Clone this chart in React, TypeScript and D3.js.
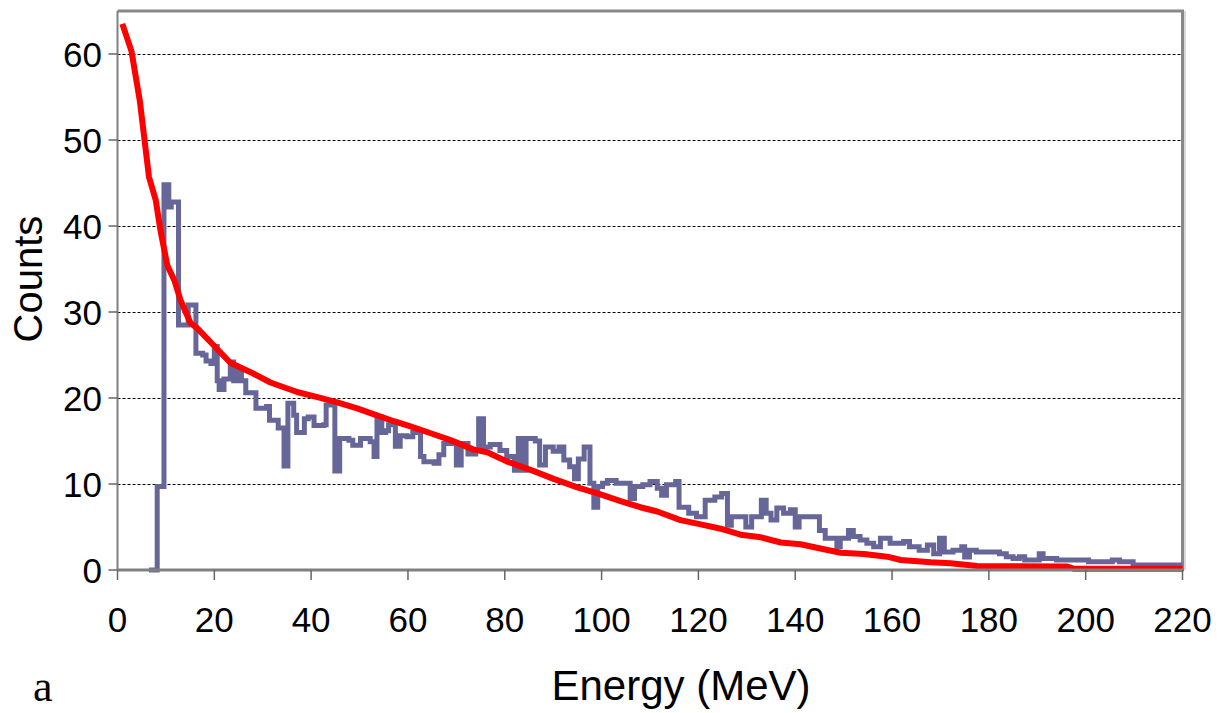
import React from "react";
import * as d3 from "d3";

// measured spectrum (step histogram), bin start energy -> counts
const measEnergy = [
  6.5, 8.2, 9.6, 10.6, 11.1, 12.6, 14.6, 16.2, 17.6, 18.3, 19.3, 20.0, 20.6, 21.0, 22.0, 23.3, 24.0, 24.7, 25.6,
  26.5, 28.6, 30.8, 31.4, 33.2, 34.4, 35.2, 36.4, 37.0, 38.6, 39.4, 40.6, 42.6, 43.1, 44.9, 45.9, 47.8, 48.6,
  50.2, 52.2, 53.0, 53.6, 54.6, 55.4, 56.0, 57.4, 58.4, 59.8, 61.0, 62.6, 63.3, 65.4, 66.4, 67.4, 69.0, 70.0,
  71.0, 72.4, 74.0, 74.6, 75.6, 77.0, 79.0, 80.4, 82.0, 82.8, 83.5, 84.4, 86.3, 87.2, 88.4, 90.0, 91.2, 92.2,
  93.4, 94.4, 95.2, 96.4, 97.6, 98.4, 99.2, 100.2, 101.2, 103.0, 104.8, 105.9, 106.8, 108.5, 110.0, 111.5,
  112.4, 113.4, 115.3, 116.0, 118.0, 119.6, 121.4, 123.4, 124.8, 126.0, 126.8, 129.8, 131.0, 133.0, 134.0,
  135.0, 136.2, 137.6, 139.0, 140.0, 140.8, 145.0, 146.2, 148.6, 149.3, 151.0, 152.0, 153.4, 154.8, 156.2,
  157.6, 159.6, 162.4, 163.6, 165.6, 167.3, 168.6, 169.8, 170.8, 172.6, 174.4, 175.0, 176.0, 177.4, 182.2,
  183.6, 185.0, 186.3, 187.4, 190.4, 191.2, 194.0, 200.6, 205.5, 207.0, 209.8, 220.0,
];
const measCounts = [
  0, 9.7, 44.8, 42.2, 42.8, 28.5, 30.8, 25.2, 25.0, 24.3, 24.0, 26.0, 22.0, 21.0, 22.2, 24.2, 22.0, 23.4, 22.0,
  20.6, 18.8, 19.0, 17.4, 16.5, 12.1, 19.4, 18.0, 16.0, 17.6, 17.8, 16.8, 16.9, 19.2, 11.5, 15.3, 15.1, 14.5,
  15.3, 14.9, 13.2, 17.8, 16.0, 16.2, 16.9, 14.4, 15.6, 15.5, 16.0, 13.2, 12.6, 12.4, 13.4, 14.7, 14.7, 12.2,
  14.7, 13.5, 13.9, 17.6, 14.3, 14.6, 13.9, 13.2, 11.6, 15.3, 11.6, 15.3, 15.0, 12.2, 14.3, 13.8, 14.3, 12.8,
  12.0, 10.6, 12.9, 14.3, 10.1, 7.3, 9.7, 10.1, 10.4, 10.1, 10.1, 8.3, 9.7, 9.9, 10.3, 9.5,
  8.7, 9.9, 10.3, 7.3, 6.6, 6.2, 8.1, 8.5, 8.9, 5.2, 6.2, 5.0, 6.2, 8.1, 6.6,
  5.8, 7.2, 6.6, 7.0, 5.0, 6.2, 4.6, 3.7, 2.7, 3.7, 4.6, 3.9, 3.5, 3.1, 2.7,
  3.7, 3.1, 3.3, 2.7, 2.3, 2.9, 1.9, 3.7, 2.1, 2.3, 2.7, 1.5, 2.3, 2.1, 1.9,
  1.55, 1.35, 1.55, 1.16, 1.9, 1.35, 1.16, 0.97, 1.16, 0.97, 0.58, 0.58,
];

// fitted curve
const fitEnergy = [
  1, 2.9, 4.6, 6.5, 7.9, 8.9, 10.3, 11.8, 13, 15.1, 16.5, 19.9, 23.3, 27.5, 31.6, 37.1, 41.3, 45.4, 49.5, 53,
  57.1, 60.5, 64.7, 68.8, 73.6, 76.4, 80.5, 86, 90.1, 95, 99.8, 103.9, 108, 111.5, 116.3, 120.5, 124.6, 128.7,
  132.9, 137, 141.1, 145.2, 149.4, 154.2, 159, 161.8, 168, 172.1, 177.6, 196.2, 197.5, 220,
];
const fitCounts = [
  63.5, 60.3, 54.6, 45.7, 43.0, 39.4, 35.4, 33.6, 31.4, 28.7, 28.1, 26.1, 24.1, 23.0, 21.8, 20.7, 20.1, 19.5,
  18.8, 18.1, 17.3, 16.7, 15.9, 15.1, 14.0, 13.7, 12.6, 11.5, 10.6, 9.6, 8.8, 8.0, 7.3, 6.8, 5.8, 5.3, 4.8, 4.1,
  3.8, 3.2, 3.0, 2.5, 2.0, 1.86, 1.55, 1.16, 0.9, 0.78, 0.46, 0.4, 0.15, 0.15,
];

const xTicks = [0, 20, 40, 60, 80, 100, 120, 140, 160, 180, 200, 220];
const yTicks = [0, 10, 20, 30, 40, 50, 60];

const W = 1223;
const H = 713;
const left = 117.5;
const right = 1182.5;
const top = 11;
const bottom = 570;
const font = "'Liberation Sans', Arial, sans-serif";

export default function App() {
  const x = d3.scaleLinear().domain([0, 220]).range([left, right]);
  const y = d3.scaleLinear().domain([0, 65]).range([bottom, top]);

  const meas = measEnergy.map((e, i) => [e, measCounts[i]] as [number, number]);
  const fit = fitEnergy.map((e, i) => [e, fitCounts[i]] as [number, number]);

  const stepLine = d3.line<[number, number]>()
    .x(d => x(d[0]))
    .y(d => y(d[1]))
    .curve(d3.curveStepAfter);
  const fitLine = d3.line<[number, number]>()
    .x(d => x(d[0]))
    .y(d => y(d[1]));

  return (
    <svg width={W} height={H} style={{ position: "absolute", left: 0, top: 0, background: "#fff" }}>
      {/* grid */}
      {yTicks.filter(t => t > 0).map(t => (
        <line key={"g" + t} x1={left} x2={right} y1={Math.round(y(t)) + 0.5} y2={Math.round(y(t)) + 0.5}
          stroke="#000" strokeWidth={1} strokeDasharray="3,2" />
      ))}
      {/* frame top/right */}
      <line x1={left} x2={right + 1.5} y1={top} y2={top} stroke="#888" strokeWidth={3} />
      <line x1={right} x2={right} y1={top} y2={bottom} stroke="#888" strokeWidth={3} />
      <line x1={right + 2.5} x2={right + 2.5} y1={top} y2={bottom} stroke="#ccc" strokeWidth={1.5} />

      {/* data */}
      <path d={stepLine(meas) || ""} fill="none" stroke="#666699" strokeWidth={5} strokeLinejoin="miter" />
      <path d={fitLine(fit) || ""} fill="none" stroke="#ff0000" strokeWidth={6} strokeLinejoin="round" />

      {/* y axis */}
      <line x1={left} x2={left} y1={top} y2={bottom} stroke="#808080" strokeWidth={2} />
      {yTicks.map(t => (
        <g key={"y" + t}>
          <line x1={left - 9} x2={left} y1={y(t)} y2={y(t)} stroke="#666" strokeWidth={1.5} />
          <text x={102} y={y(t) + 13} textAnchor="end" fontFamily={font} fontSize={35} fill="#000">{t}</text>
        </g>
      ))}

      {/* x axis */}
      <line x1={left} x2={right + 1.5} y1={bottom} y2={bottom} stroke="#808080" strokeWidth={3} />
      {xTicks.map(t => (
        <g key={"x" + t}>
          <line x1={x(t)} x2={x(t)} y1={bottom} y2={bottom + 10} stroke="#666" strokeWidth={1.5} />
          <text x={x(t)} y={632} textAnchor="middle" fontFamily={font} fontSize={35} fill="#000">{t}</text>
        </g>
      ))}

      <text x={681} y={700} textAnchor="middle" fontFamily={font} fontSize={42} fill="#000">Energy (MeV)</text>
      <text transform="translate(42,279) rotate(-90)" textAnchor="middle" fontFamily={font} fontSize={40} fill="#000">Counts</text>
      <text x={33} y={701} fontFamily="'Liberation Serif', 'Times New Roman', serif" fontSize={44} fill="#000">a</text>
    </svg>
  );
}
